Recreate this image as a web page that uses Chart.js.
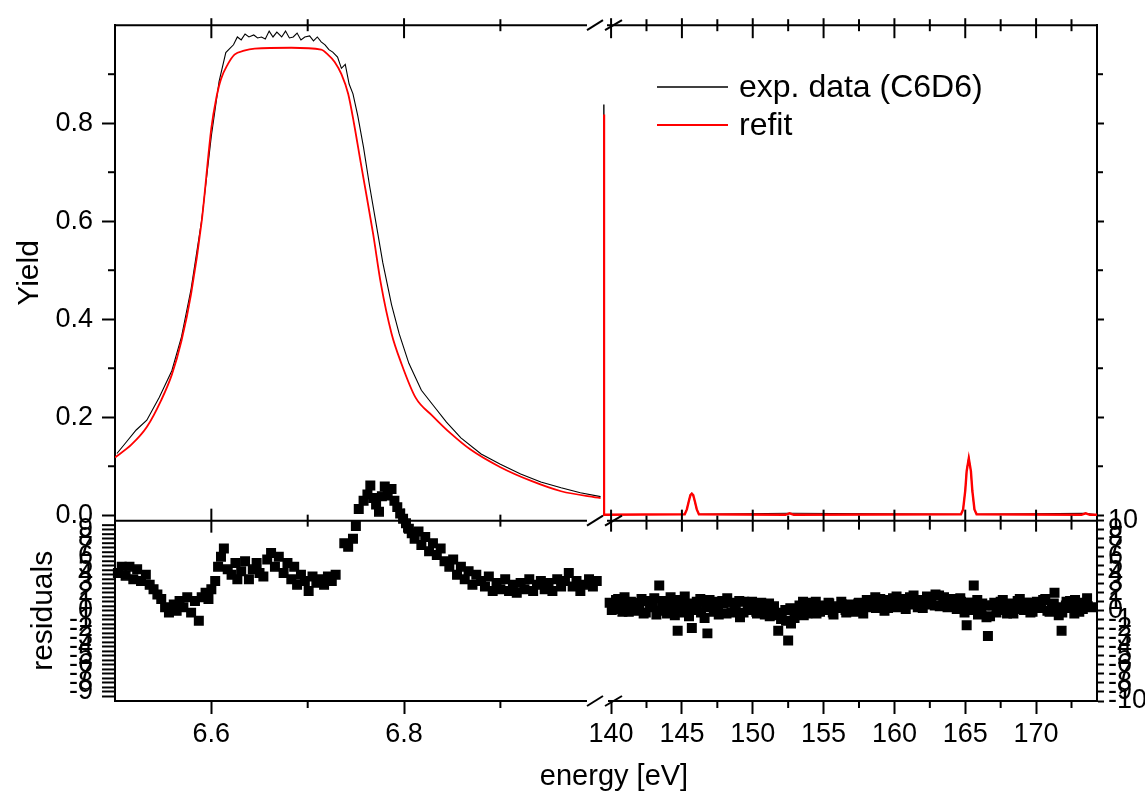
<!DOCTYPE html>
<html>
<head>
<meta charset="utf-8">
<script src="https://cdn.jsdelivr.net/npm/chart.js@4"></script>
<style>
  body { margin: 0; background: #fff; }
  canvas { display: block; }
</style>
</head>
<body>
<canvas id="grafico" width="1145" height="806"></canvas>
<script>
// tick labels
const lowTicks = [6.6, 6.8];
const highTicks = [140, 145, 150, 155, 160, 165, 170];
const yieldTicks = [0, 0.2, 0.4, 0.6, 0.8];
const residTicksLeft = [-9, -8, -7, -6, -5, -4, -3, -2, -1, 0, 1, 2, 3, 4, 5, 6, 7, 8, 9];
const residTicksRight = [-10, -9, -8, -7, -6, -5, -4, -3, -2, -1, 0, 1, 2, 3, 4, 5, 6, 7, 8, 9, 10];

// exp. data (C6D6), low energy part
const expLowE = [6.502, 6.512, 6.522, 6.533, 6.546, 6.559, 6.569, 6.579, 6.590, 6.600,
  6.608, 6.615, 6.619, 6.623, 6.627, 6.631, 6.635, 6.639, 6.644, 6.648,
  6.652, 6.656, 6.660, 6.664, 6.668, 6.673, 6.677, 6.681, 6.685, 6.689,
  6.693, 6.697, 6.702, 6.706, 6.710, 6.714, 6.718, 6.722, 6.726, 6.731,
  6.735, 6.739, 6.743, 6.747, 6.752, 6.758, 6.764, 6.771, 6.778, 6.787,
  6.795, 6.805, 6.818, 6.830, 6.844, 6.859, 6.880, 6.900, 6.921, 6.942,
  6.963, 6.983, 7.004];
const expLowY = [0.126, 0.150, 0.174, 0.194, 0.241, 0.295, 0.364, 0.462, 0.603, 0.774,
  0.885, 0.944, 0.952, 0.960, 0.976, 0.970, 0.982, 0.976, 0.980, 0.974,
  0.976, 0.972, 0.988, 0.976, 0.986, 0.976, 0.988, 0.974, 0.976, 0.984,
  0.970, 0.976, 0.978, 0.968, 0.976, 0.966, 0.960, 0.950, 0.945, 0.935,
  0.912, 0.920, 0.880, 0.860, 0.815, 0.750, 0.675, 0.595, 0.515, 0.430,
  0.370, 0.310, 0.255, 0.225, 0.190, 0.158, 0.125, 0.104, 0.084, 0.068,
  0.056, 0.046, 0.038];

// refit, low energy part
const fitLowE = [6.500, 6.517, 6.533, 6.548, 6.559, 6.569, 6.579, 6.590, 6.600, 6.605,
  6.610, 6.617, 6.624, 6.634, 6.645, 6.683, 6.714, 6.721, 6.728, 6.735,
  6.742, 6.748, 6.755, 6.761, 6.768, 6.776, 6.787, 6.797, 6.812, 6.830,
  6.849, 6.869, 6.900, 6.932, 6.963, 7.004];
const fitLowY = [0.118, 0.144, 0.180, 0.235, 0.287, 0.356, 0.452, 0.600, 0.790, 0.850,
  0.890, 0.920, 0.940, 0.948, 0.952, 0.954, 0.950, 0.940, 0.925, 0.900,
  0.860, 0.800, 0.720, 0.653, 0.573, 0.472, 0.371, 0.311, 0.240, 0.202,
  0.166, 0.134, 0.098, 0.070, 0.049, 0.035];

// high energy part
const expHighE = [139.48, 139.50, 145.2, 145.35, 145.5, 145.6, 145.7, 145.8, 145.9, 146.05,
  146.2, 152.6, 164.7, 164.85, 165.0, 165.1, 165.25, 165.4, 165.5, 165.65,
  165.8, 173.5, 174.3];
const expHighY = [0.838, 0.001, 0.002, 0.013, 0.031, 0.042, 0.045, 0.040, 0.029, 0.011,
  0.002, 0.004, 0.002, 0.013, 0.052, 0.092, 0.118, 0.088, 0.048, 0.011,
  0.002, 0.004, 0.001];
const fitHighE = [139.48, 139.50, 145.2, 145.35, 145.5, 145.6, 145.7, 145.8, 145.9, 146.05,
  146.2, 152.3, 152.6, 152.9, 164.7, 164.85, 165.0, 165.1, 165.25, 165.4,
  165.5, 165.65, 165.8, 173.2, 173.5, 173.8, 174.3];
const fitHighY = [0.818, 0.001, 0.002, 0.012, 0.030, 0.041, 0.044, 0.041, 0.030, 0.012,
  0.002, 0.001, 0.004, 0.001, 0.002, 0.012, 0.050, 0.090, 0.116, 0.090,
  0.050, 0.012, 0.002, 0.001, 0.004, 0.001, 0.001];

// residuals
const resLowE = [6.503, 6.507, 6.511, 6.515, 6.519, 6.523, 6.527, 6.532, 6.536, 6.540,
  6.544, 6.548, 6.552, 6.556, 6.561, 6.564, 6.567, 6.571, 6.575, 6.579,
  6.583, 6.587, 6.590, 6.594, 6.597, 6.600, 6.604, 6.607, 6.610, 6.613,
  6.617, 6.621, 6.625, 6.627, 6.631, 6.635, 6.639, 6.643, 6.647, 6.650,
  6.654, 6.658, 6.662, 6.666, 6.670, 6.675, 6.679, 6.683, 6.686, 6.689,
  6.693, 6.697, 6.701, 6.705, 6.709, 6.713, 6.717, 6.721, 6.725, 6.729,
  6.738, 6.742, 6.747, 6.750, 6.753, 6.758, 6.762, 6.765, 6.768, 6.771,
  6.774, 6.777, 6.780, 6.783, 6.787, 6.790, 6.793, 6.796, 6.799, 6.802,
  6.805, 6.808, 6.811, 6.815, 6.818, 6.822, 6.826, 6.830, 6.834, 6.838,
  6.842, 6.847, 6.851, 6.855, 6.859, 6.863, 6.867, 6.871, 6.875, 6.880,
  6.884, 6.888, 6.892, 6.896, 6.900, 6.905, 6.909, 6.913, 6.917, 6.921,
  6.925, 6.930, 6.934, 6.938, 6.942, 6.946, 6.950, 6.954, 6.959, 6.963,
  6.967, 6.971, 6.975, 6.979, 6.983, 6.988, 6.992, 6.996, 7.000];
const resLowR = [4.2, 4.9, 3.9, 4.9, 3.5, 4.6, 3.3, 4.0, 2.9, 2.4,
  1.8, 1.3, 0.4, -0.2, 0.7, 0.0, 1.1, 0.4, 1.5, -0.2,
  1.1, -1.1, 1.5, 2.0, 1.3, 2.4, 3.3, 4.9, 6.0, 6.9,
  4.6, 4.0, 5.3, 3.5, 4.4, 5.5, 3.5, 4.6, 5.3, 4.2,
  3.8, 5.7, 6.4, 4.9, 6.0, 4.2, 5.3, 3.5, 4.9, 2.9,
  4.0, 3.3, 2.2, 3.8, 3.1, 3.5, 2.9, 3.8, 3.3, 4.0,
  7.5, 7.1, 8.0, 9.4, 11.3, 12.2, 12.9, 13.9, 12.5, 11.8,
  11.0, 12.7, 13.8, 12.8, 13.5, 12.2, 11.5, 10.8, 10.2, 9.7,
  9.1, 8.6, 8.0, 8.8, 7.3, 8.2, 6.6, 7.5, 6.2, 6.9,
  5.5, 4.9, 5.7, 4.0, 4.9, 3.5, 4.4, 2.9, 4.0, 3.3,
  2.7, 3.8, 2.2, 3.1, 2.4, 3.5, 2.2, 2.9, 2.0, 3.1,
  2.4, 3.5, 2.2, 2.9, 3.3, 2.4, 3.1, 2.2, 3.5, 2.7,
  3.3, 4.2, 2.7, 3.3, 2.2, 2.9, 3.5, 2.7, 3.3];
const resHighE = [139.9, 140.2, 140.5, 140.8, 141.1, 141.4, 141.7, 142.0, 142.3, 142.6,
  142.9, 143.2, 143.4, 143.6, 143.9, 144.2, 144.5, 144.7, 144.9, 145.2,
  145.5, 145.7, 146.0, 146.3, 146.6, 146.8, 147.0, 147.3, 147.6, 147.9,
  148.2, 148.5, 148.8, 149.1, 149.4, 149.7, 150.0, 150.3, 150.6, 150.9,
  151.2, 151.5, 151.8, 152.0, 152.3, 152.5, 152.7, 153.0, 153.3, 153.6,
  153.9, 154.2, 154.5, 154.8, 155.1, 155.4, 155.7, 156.0, 156.3, 156.6,
  156.9, 157.2, 157.5, 157.8, 158.1, 158.4, 158.7, 159.0, 159.3, 159.6,
  159.9, 160.2, 160.5, 160.8, 161.1, 161.4, 161.7, 162.0, 162.3, 162.6,
  162.9, 163.2, 163.5, 163.8, 164.1, 164.4, 164.7, 165.0, 165.1, 165.4,
  165.6, 165.9, 166.2, 166.5, 166.6, 166.9, 167.2, 167.5, 167.8, 168.1,
  168.4, 168.7, 169.0, 169.3, 169.6, 169.9, 170.2, 170.5, 170.8, 171.1,
  171.3, 171.6, 171.8, 172.1, 172.4, 172.7, 173.0, 173.3, 173.6, 173.9];
const resHighR = [0.9, 0.2, 1.3, -0.1, 0.7, 1.0, 0.0, 0.8, -0.3, 1.1,
  0.4, -0.4, 2.8, 0.9, 0.2, 1.5, -0.5, -2.2, 0.7, 1.6,
  -0.6, -1.9, 0.6, 1.3, -0.8, -2.5, 0.4, 1.0, -0.4, 0.8,
  1.4, -0.2, 0.5, -0.7, 1.0, 0.1, 0.7, -0.3, 0.9, 0.2,
  -0.6, 0.5, -2.2, -0.9, 0.1, -3.3, -1.4, -0.2, 0.6, -0.5,
  0.4, 0.9, -0.3, 0.5, 0.1, 0.8, -0.4, 0.3, 0.7, -0.2,
  0.6, 0.2, 0.9, -0.3, 0.5, 1.1, 0.3, 1.3, 0.0, 0.9,
  1.4, 0.4, 1.1, 0.2, 1.5, 0.7, 1.2, 0.3, 1.6, 0.8,
  1.8, 0.5, 1.5, 0.9, 1.3, 0.2, 1.0, 0.5, -1.6, 0.9,
  2.8, -0.4, 0.8, -0.7, -2.8, 0.6, -0.2, 1.0, 0.1, 0.7,
  -0.3, 1.1, 0.3, 0.9, -0.2, 0.8, 0.4, 1.2, 0.0, 0.7,
  2.0, -0.5, -2.2, 0.6, 1.1, -0.3, 0.8, 0.2, 1.4, 0.4];
const resHigh2E = [140.05, 140.35, 140.65, 140.95, 141.25, 141.55, 141.85, 142.15, 142.45, 142.75,
  143.05, 143.35, 143.65, 143.95, 144.25, 144.55, 144.85, 145.15, 145.45, 145.75,
  146.05, 146.35, 146.65, 146.95, 147.25, 147.55, 147.85, 148.15, 148.45, 148.75,
  149.05, 149.35, 149.65, 149.95, 150.25, 150.55, 150.85, 151.15, 151.45, 151.75,
  152.05, 152.35, 152.65, 152.95, 153.25, 153.55, 153.85, 154.15, 154.45, 154.75,
  155.05, 155.35, 155.65, 155.95, 156.25, 156.55, 156.85, 157.15, 157.45, 157.75,
  158.05, 158.35, 158.65, 158.95, 159.25, 159.55, 159.85, 160.15, 160.45, 160.75,
  161.05, 161.35, 161.65, 161.95, 162.25, 162.55, 162.85, 163.15, 163.45, 163.75,
  164.05, 164.35, 164.65, 164.95, 165.25, 165.55, 165.85, 166.15, 166.45, 166.75,
  167.05, 167.35, 167.65, 167.95, 168.25, 168.55, 168.85, 169.15, 169.45, 169.75,
  170.05, 170.35, 170.65, 170.95, 171.25, 171.55, 171.85, 172.15, 172.45, 172.75,
  173.05, 173.35, 173.65];
const resHigh2R = [0.1, 1.2, 0.4, 1.5, -0.1, 0.9, 0.2, 1.3, -0.2, 0.8,
  1.4, 0.0, 1.1, -0.3, 0.9, 0.3, 1.2, -0.2, 0.8, 0.1,
  1.0, -0.2, 0.7, 1.2, -0.1, 0.6, 1.1, -0.3, 0.9, 0.2,
  1.1, -0.2, 0.6, 1.0, -0.1, 0.7, -0.4, 0.8, 0.1, -0.5,
  -0.2, -1.1, 0.3, -0.8, 0.2, 1.0, -0.3, 0.6, 1.0, -0.1,
  0.6, 0.9, -0.2, 0.5, 1.0, 0.1, 0.7, -0.1, 0.8, 0.4,
  1.2, 0.4, 1.5, 0.6, 1.2, 0.3, 1.0, 1.6, 0.5, 1.3,
  0.8, 1.7, 0.4, 1.2, 0.7, 1.4, 0.6, 1.7, 0.9, 0.4,
  1.1, 0.5, 1.4, -0.2, 0.9, 0.1, 1.2, -0.2, 0.6, -0.6,
  0.9, 0.2, 1.2, -0.3, 0.8, 0.2, 1.3, 0.1, 0.9, -0.1,
  1.0, 0.3, 1.3, -0.1, 0.8, 0.4, -0.2, 1.0, 0.3, 1.2,
  -0.1, 0.9, 0.5];

const FONT = 'Liberation Sans';
const tickFont = { family: FONT, size: 27 };

function pts(xs, ys) {
  return xs.map((x, i) => ({ x: x, y: ys[i] }));
}

// tick marks the axes themselves do not draw (minor ones, inner frame, break)
const decor = {
  id: 'decor',
  afterDraw(chart) {
    const c = chart.ctx, s = chart.scales;
    const L = s.yT.right, R = s.yT2.left, T = s.yT.top, M = s.yT.bottom, B = s.yB.bottom;
    const K = s.xL.right;
    const seg = (x1, y1, x2, y2) => { c.beginPath(); c.moveTo(x1, y1); c.lineTo(x2, y2); c.stroke(); };
    const marksX = (sc, vals, y, up, down) => vals.forEach(v => { const x = sc.getPixelForValue(v); seg(x, y - up, x, y + down); });
    const marksY = (sc, vals, x, a, b) => vals.forEach(v => { const y = sc.getPixelForValue(v); seg(x - a, y, x + b, y); });

    c.save();
    c.strokeStyle = '#000';
    c.lineWidth = 2;
    c.fillStyle = '#fff';
    c.fillRect(K - 16, B - 3, 21, 6);

    // top frame and the line between the panels, with the break gap
    [T, M].forEach(y => { seg(L, y, K - 16, y); seg(K + 4, y, R, y); });
    // break marks
    [T, M, B].forEach(y => { seg(K - 16, y + 5, K, y - 5); seg(K + 2, y + 5, K + 19, y - 5); });

    const lowMinor = [6.7, 6.9];
    const highMinor = highTicks.map(v => v + 2.5);
    marksX(s.xL, lowTicks, T, 7, 13);
    marksX(s.xL, lowMinor, T, 6, 6);
    marksX(s.xR, highTicks, T, 7, 13);
    marksX(s.xR, highMinor, T, 6, 6);
    marksX(s.xL, lowTicks, M, 12, 12);
    marksX(s.xL, lowMinor, M, 6, 6);
    marksX(s.xR, highTicks, M, 11, 11);
    marksX(s.xR, highMinor, M, 5, 9);
    marksX(s.xL, lowMinor, B, 0, 7);
    marksX(s.xR, highMinor, B, 0, 7);

    const yMinor = yieldTicks.map(v => v + 0.1);
    marksY(s.yT, yMinor, L, 7, 0);
    marksY(s.yT2, yMinor, R, 0, 6);
    marksY(s.yB, residTicksLeft.map(v => v + 0.5).concat([-9.5]), L, 13, 0);

    // legend
    c.lineWidth = 1.3;
    seg(657, 87, 728, 87);
    c.strokeStyle = '#ff0000';
    c.lineWidth = 2;
    seg(657, 125, 728, 125);
    c.fillStyle = '#000';
    c.font = '32px "' + FONT + '"';
    c.textAlign = 'left';
    c.textBaseline = 'middle';
    c.fillText('exp. data (C6D6)', 739, 88);
    c.fillText('refit', 739, 126);

    // shared x title
    c.font = '29px "' + FONT + '"';
    c.textAlign = 'center';
    c.fillText('energy [eV]', 614, 777);
    c.restore();
  }
};

function yAxis(pos, stack, weight, sw, min, max, vals, show, tl, pad, w, title) {
  return {
    type: 'linear', position: pos, stack: stack, stackWeight: sw, weight: weight,
    min: min, max: max,
    afterBuildTicks: sc => { sc.ticks = vals.map(v => ({ value: v })); },
    afterFit: sc => { sc.width = w; },
    ticks: {
      display: show, autoSkip: false, color: '#000', font: tickFont, padding: pad,
      callback: v => (max > 5 ? String(v) : v.toFixed(1))
    },
    grid: { drawOnChartArea: false, tickLength: tl, tickWidth: 2, tickColor: '#000' },
    border: { color: '#000', width: 2 },
    title: title
  };
}

function xAxis(weight, sw, min, max, vals) {
  return {
    type: 'linear', position: 'bottom', stack: 'h', stackWeight: sw, weight: weight,
    min: min, max: max,
    afterBuildTicks: sc => { sc.ticks = vals.map(v => ({ value: v })); },
    afterFit: sc => { sc.height = 105; },
    ticks: { autoSkip: false, maxRotation: 0, color: '#000', font: tickFont, padding: 4,
      callback: v => (max > 100 ? String(v) : v.toFixed(1)) },
    grid: { drawOnChartArea: false, tickLength: 13, tickWidth: 2, tickColor: '#000' },
    border: { color: '#000', width: 2 }
  };
}

const squares = { showLine: false, clip: false, pointStyle: 'rect', pointRadius: 6,
  backgroundColor: '#000', borderColor: '#000', borderWidth: 1.5, yAxisID: 'yB' };

const ctx = document.getElementById('grafico').getContext('2d');
new Chart(ctx, {
  type: 'scatter',
  data: {
    datasets: [
      { data: pts(fitLowE, fitLowY), xAxisID: 'xL', yAxisID: 'yT', showLine: true,
        borderColor: '#ff0000', borderWidth: 1.8, pointRadius: 0, cubicInterpolationMode: 'monotone' },
      { data: pts(fitHighE, fitHighY), xAxisID: 'xR', yAxisID: 'yT', showLine: true,
        borderColor: '#ff0000', borderWidth: 2.4, pointRadius: 0 },
      { data: pts(expLowE, expLowY), xAxisID: 'xL', yAxisID: 'yT', showLine: true,
        borderColor: '#000', borderWidth: 1.1, pointRadius: 0 },
      { data: pts(expHighE, expHighY), xAxisID: 'xR', yAxisID: 'yT', showLine: true,
        borderColor: '#000', borderWidth: 1.1, pointRadius: 0 },
      Object.assign({ data: pts(resLowE, resLowR), xAxisID: 'xL' }, squares),
      Object.assign({ data: pts(resHighE, resHighR), xAxisID: 'xR' }, squares),
      Object.assign({ data: pts(resHigh2E, resHigh2R), xAxisID: 'xR' }, squares)
    ]
  },
  options: {
    responsive: false,
    animation: false,
    devicePixelRatio: 1,
    layout: { padding: { left: 0, right: 0, top: 19, bottom: 0 } },
    plugins: { legend: { display: false }, tooltip: { enabled: false } },
    scales: {
      xL: xAxis(1, 488, 6.5, 7.0065, lowTicks),
      xR: xAxis(2, 494, 139.43, 174.3, highTicks),
      yT: yAxis('left', 'v', 2, 500, -0.011, 1.0, yieldTicks, true, 13, 9, 115,
        { display: true, text: 'Yield', color: '#000', font: { family: FONT, size: 30 }, padding: { top: 12, bottom: 0 } }),
      yB: yAxis('left', 'v', 1, 182, -10, 10, residTicksLeft, true, 13, 9, 115,
        { display: true, text: 'residuals', color: '#000', font: { family: FONT, size: 30 }, padding: { top: 26, bottom: 0 } }),
      yT2: yAxis('right', 'v2', 1, 500, -0.011, 1.0, yieldTicks, false, 7, 4, 48, { display: false }),
      yB2: yAxis('right', 'v2', 2, 182, -10, 10, residTicksRight, true, 7, 4, 48, { display: false })
    }
  },
  plugins: [decor]
});
</script>
</body>
</html>
